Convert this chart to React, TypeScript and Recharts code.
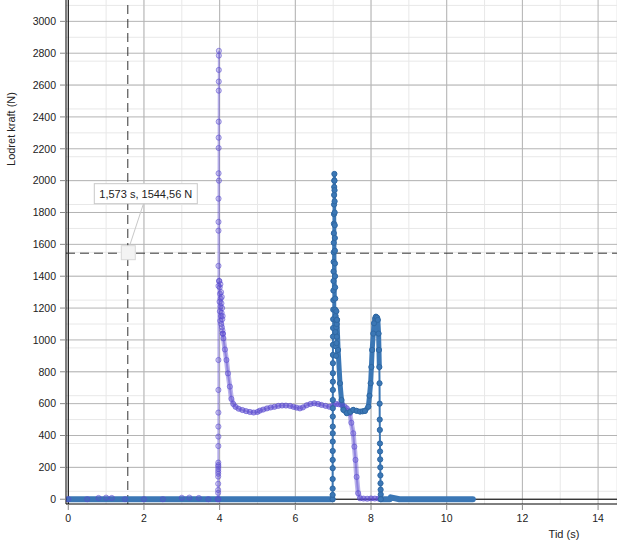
import React from 'react';
import {
  ComposedChart,
  Line,
  XAxis,
  YAxis,
  CartesianGrid,
  ReferenceLine,
  ReferenceDot,
  Label,
} from 'recharts';

// ---------- axis ticks ----------
const xTicks = [0, 2, 4, 6, 8, 10, 12, 14];
const yTicks = [0, 200, 400, 600, 800, 1000, 1200, 1400, 1600, 1800, 2000, 2200, 2400, 2600, 2800, 3000];

// ---------- purple series ----------
const purpleBaseTime = [0, 0.5, 0.8, 1.0, 1.15, 1.5, 2, 2.5, 3.0, 3.2, 3.45, 3.7, 3.955];
const purpleBaseForce = [0, 0, 8, 10, 8, 0, 0, 0, 9, 10, 8, 0, 0];

const purpleSpikeTime = [
  3.96, 3.9605, 3.961, 3.9615, 3.962, 3.9625, 3.963, 3.9635, 3.964, 3.9645, 3.965, 3.9655,
  3.966, 3.9665, 3.967, 3.9675, 3.968, 3.9685, 3.969, 3.9695, 3.97, 3.971, 3.972, 3.973,
  3.974, 3.975, 3.976, 3.977, 3.978, 3.979, 3.98, 3.981, 3.982,
];
const purpleSpikeForce = [
  0, 40, 58, 97, 142, 160, 175, 190, 205, 215, 230, 334,
  393, 456, 544, 686, 874, 1339, 1465, 1686, 1741, 1887, 2046, 2205,
  2270, 2370, 2565, 2622, 2695, 2785, 2815, 2000, 1370,
];

const purpleClusterTime = [
  3.993, 3.998, 4.002, 4.007, 4.011, 4.016, 4.02, 4.025, 4.029, 4.034, 4.038,
  4.043, 4.047, 4.052, 4.056, 4.061, 4.065, 4.07, 4.074, 4.079, 4.085,
];
const purpleClusterForce = [
  1370, 1240, 1330, 1180, 1290, 1120, 1350, 1210, 1260, 1150, 1300,
  1100, 1230, 1170, 1270, 1080, 1200, 1130, 1060, 1150, 1040,
];

const purplePlateauTime = [
  4.085, 4.1, 4.14, 4.18, 4.22, 4.27, 4.31, 4.36, 4.42, 4.5, 4.6, 4.7, 4.8, 4.9, 5.0, 5.06,
  5.15, 5.25, 5.35, 5.45, 5.55, 5.65, 5.75, 5.86, 5.95, 6.03, 6.12, 6.2, 6.3, 6.4, 6.5,
  6.6, 6.69, 6.8, 6.9, 7.0, 7.08, 7.15, 7.22, 7.3, 7.36, 7.41, 7.44, 7.48, 7.53, 7.56,
  7.59, 7.62, 7.66, 7.71, 7.8, 7.9, 8.0, 8.1, 8.2, 8.25,
];
const purplePlateauForce = [
  1040, 1010, 940, 874, 790, 707, 630, 598, 580, 568, 560, 553, 548, 544, 548, 556,
  563, 570, 576, 580, 586, 588, 588, 586, 580, 575, 570, 576, 590, 598, 602,
  598, 592, 586, 580, 590, 598, 596, 592, 582, 571, 555, 540, 480, 414, 330,
  247, 140, 38, 6, 4, 3, 5, 4, 4, 3,
];

// ---------- blue series ----------
const blueBase1Time = [0, 0.5, 1, 1.5, 2, 2.5, 3, 3.5, 4, 4.5, 5, 5.5, 6, 6.5, 6.98];
const blueBase1Force = [0, 0, 0, 0, 0, 0, 0, 0, 0, 0, 0, 0, 0, 0, 0];

const blueSpikeTime = [
  6.985, 6.9855, 6.986, 6.9865, 6.987, 6.9875, 6.988, 6.9885, 6.989, 6.9895, 6.99, 6.9905,
  6.991, 6.9915, 6.992, 6.9925, 6.993, 6.9935, 6.994, 6.995, 6.998, 7.0, 7.002, 7.004,
  7.006, 7.008, 7.01, 7.012, 7.014, 7.016, 7.018, 7.02, 7.022, 7.024, 7.026, 7.028, 7.03,
  7.032, 7.034, 7.036, 7.038, 7.04, 7.042, 7.044, 7.046, 7.048, 7.05, 7.052, 7.054,
];
const blueSpikeForce = [
  0, 27, 67, 127, 195, 247, 303, 362, 414, 456, 519, 571,
  623, 686, 738, 791, 854, 906, 969, 1021, 1075, 1130, 1190, 1250,
  1310, 1370, 1430, 1490, 1550, 1610, 1670, 1730, 1790, 1850, 1910, 1960, 2000,
  2042, 2000, 1940, 1870, 1800, 1720, 1640, 1560, 1480, 1400, 1330, 1260,
];

const blueClusterTime = [7.056, 7.06, 7.064, 7.068, 7.072, 7.076, 7.08, 7.084, 7.088, 7.092, 7.096, 7.1];
const blueClusterForce = [1190, 1050, 1150, 960, 1120, 900, 1080, 1180, 980, 1100, 1020, 1126];

const blueHumpTime = [
  7.1, 7.13, 7.18, 7.22, 7.27, 7.36, 7.45, 7.53, 7.62, 7.71, 7.78, 7.84, 7.93, 7.96,
  7.99, 8.01, 8.03, 8.06, 8.08, 8.11, 8.13, 8.16, 8.18, 8.2, 8.21, 8.22,
];
const blueHumpForce = [
  1126, 937, 728, 623, 561, 540, 548, 561, 555, 550, 552, 554, 581, 650,
  728, 830, 937, 1040, 1105, 1135, 1146, 1140, 1126, 1040, 937, 830,
];

const blueFallTime = [8.225, 8.228, 8.23, 8.233, 8.236, 8.239, 8.242, 8.245, 8.248, 8.251, 8.254, 8.257, 8.26];
const blueFallForce = [728, 600, 500, 435, 350, 300, 250, 200, 150, 100, 60, 30, 0];

const blueBase2Time = [8.26, 8.5, 8.52, 8.75, 9, 9.5, 10, 10.5, 10.69];
const blueBase2Force = [0, 0, 12, 0, 0, 0, 0, 0, 0];

// ---------- crosshair readout ----------
const crossTime = 1.573;
const crossForce = 1544.56;

const zip = (t: number[], f: number[]) => t.map((x, i) => ({ t: x, f: f[i] }));

const purpleAll = [
  ...zip(purpleBaseTime, purpleBaseForce),
  ...zip(purpleSpikeTime, purpleSpikeForce),
  ...zip(purpleClusterTime, purpleClusterForce),
  ...zip(purplePlateauTime, purplePlateauForce),
];
const purplePlateau = zip(purplePlateauTime, purplePlateauForce);

// dotted blue trace: the raised part (baseline is drawn as a dense band)
const blueRaised = [
  ...zip(blueSpikeTime, blueSpikeForce),
  ...zip(blueClusterTime, blueClusterForce),
  ...zip(blueHumpTime, blueHumpForce),
  ...zip(blueFallTime, blueFallForce),
];
const blueBase1 = zip(blueBase1Time, blueBase1Force);
const blueHump = zip(blueHumpTime, blueHumpForce);
const blueBase2 = zip(blueBase2Time, blueBase2Force);
const blueTop = zip(blueSpikeTime.slice(24), blueSpikeForce.slice(24));

const minorY = Array.from({ length: 63 }, (_, i) => i * 50);
const minorX = Array.from({ length: 30 }, (_, i) => i * 0.5);

const PURPLE = '#5a4acf';
const BLUE = '#3b77b5';
const FONT = '"Liberation Sans", Arial, sans-serif';

const fmt = (v: number, d: number) => v.toFixed(d).replace('.', ',');

const CrossMarker = (props: any) => {
  const { cx, cy } = props;
  if (cx == null || cy == null) return null;
  return (
    <g>
      <line x1={cx + 2} y1={cy - 8} x2={cx + 15.5} y2={cy - 49} stroke="#c8c8c8" strokeWidth={1} />
      <rect x={cx - 6.5} y={cy - 7.5} width={14} height={14} fill="#f3f3f3" stroke="#d8d8d8" strokeWidth={1} />
      <rect x={cx - 33.5} y={cy - 69.5} width={103} height={20} fill="#ffffff" stroke="#c8c8c8" strokeWidth={1} />
      <text
        x={cx + 18}
        y={cy - 59.5}
        textAnchor="middle"
        dominantBaseline="central"
        fontFamily={FONT}
        fontSize={11}
        fill="#222"
      >
        {`${fmt(crossTime, 3)} s, ${fmt(crossForce, 2)} N`}
      </text>
    </g>
  );
};

const YLabel = (props: any) => {
  const vb = props.viewBox || { x: 0, y: 0 };
  const x = vb.x + 11;
  const y = vb.y + 129;
  return (
    <text
      x={x}
      y={y}
      transform={`rotate(-90 ${x} ${y})`}
      textAnchor="middle"
      dominantBaseline="central"
      fontFamily={FONT}
      fontSize={11}
      fill="#222"
    >
      Lodret kraft (N)
    </text>
  );
};

const XLabel = (props: any) => {
  const vb = props.viewBox || { x: 0, y: 0 };
  return (
    <text
      x={vb.x + 498}
      y={vb.y + 30}
      textAnchor="middle"
      dominantBaseline="central"
      fontFamily={FONT}
      fontSize={11}
      fill="#222"
    >
      Tid (s)
    </text>
  );
};

export default function App() {
  const tickStyle = { fontFamily: FONT, fontSize: 10.5, fill: '#222' };
  const band = {
    dataKey: 'f',
    type: 'linear' as const,
    stroke: BLUE,
    strokeWidth: 6,
    strokeLinecap: 'round' as const,
    strokeLinejoin: 'round' as const,
    dot: false,
    activeDot: false,
    isAnimationActive: false,
  };
  return (
    <div style={{ width: 617, height: 547 }}>
      <style>{'body{margin:0;}'}</style>
      <ComposedChart width={617} height={547} margin={{ top: 0, right: 0, bottom: 0, left: 0 }}>
        <CartesianGrid stroke="#e8e8e8" horizontalValues={minorY} verticalValues={minorX} />
        <CartesianGrid stroke="#b4b4b4" horizontalValues={yTicks} verticalValues={xTicks} />
        <XAxis
          type="number"
          dataKey="t"
          domain={[-0.06, 14.5]}
          ticks={xTicks}
          allowDataOverflow
          height={43}
          axisLine={{ stroke: '#000' }}
          tickLine={{ stroke: '#888' }}
          tickSize={6}
          tickMargin={5}
          tick={tickStyle}
        >
          <Label content={<XLabel />} />
        </XAxis>
        <YAxis
          type="number"
          domain={[-30, 3134]}
          ticks={yTicks}
          allowDataOverflow
          width={66}
          axisLine={{ stroke: '#000' }}
          tickLine={{ stroke: '#888' }}
          tickSize={6}
          tickMargin={4}
          tick={tickStyle}
        >
          <Label content={<YLabel />} />
        </YAxis>
        <ReferenceLine y={0} stroke="#000" strokeWidth={1} />
        <ReferenceLine x={0} stroke="#000" strokeWidth={1} />
        <ReferenceLine x={crossTime} stroke="#333" strokeDasharray="9 5" />
        <ReferenceLine y={crossForce} stroke="#333" strokeDasharray="9 5" />

        <Line
          data={purplePlateau}
          dataKey="f"
          type="linear"
          stroke={PURPLE}
          strokeOpacity={0.42}
          strokeWidth={5}
          strokeLinecap="round"
          strokeLinejoin="round"
          dot={false}
          activeDot={false}
          isAnimationActive={false}
        />
        <Line
          data={purpleAll}
          dataKey="f"
          type="linear"
          stroke={PURPLE}
          strokeOpacity={0.45}
          strokeWidth={2}
          dot={{ r: 2.6, fill: PURPLE, fillOpacity: 0.25, stroke: PURPLE, strokeOpacity: 0.55, strokeWidth: 1 }}
          activeDot={false}
          isAnimationActive={false}
        />
        <Line data={blueBase1} {...band} />
        <Line data={blueBase2} {...band} />
        <Line data={blueHump} {...band} strokeWidth={5} />
        <Line
          data={blueTop}
          dataKey="f"
          type="linear"
          stroke={BLUE}
          strokeWidth={3}
          strokeLinejoin="round"
          dot={false}
          activeDot={false}
          isAnimationActive={false}
        />
        <Line
          data={blueRaised}
          dataKey="f"
          type="linear"
          stroke={BLUE}
          strokeWidth={2}
          dot={{ r: 2.6, fill: BLUE, stroke: '#2f68a3', strokeWidth: 1 }}
          activeDot={false}
          isAnimationActive={false}
        />
        <ReferenceDot x={crossTime} y={crossForce} r={0} shape={<CrossMarker />} />
      </ComposedChart>
    </div>
  );
}
